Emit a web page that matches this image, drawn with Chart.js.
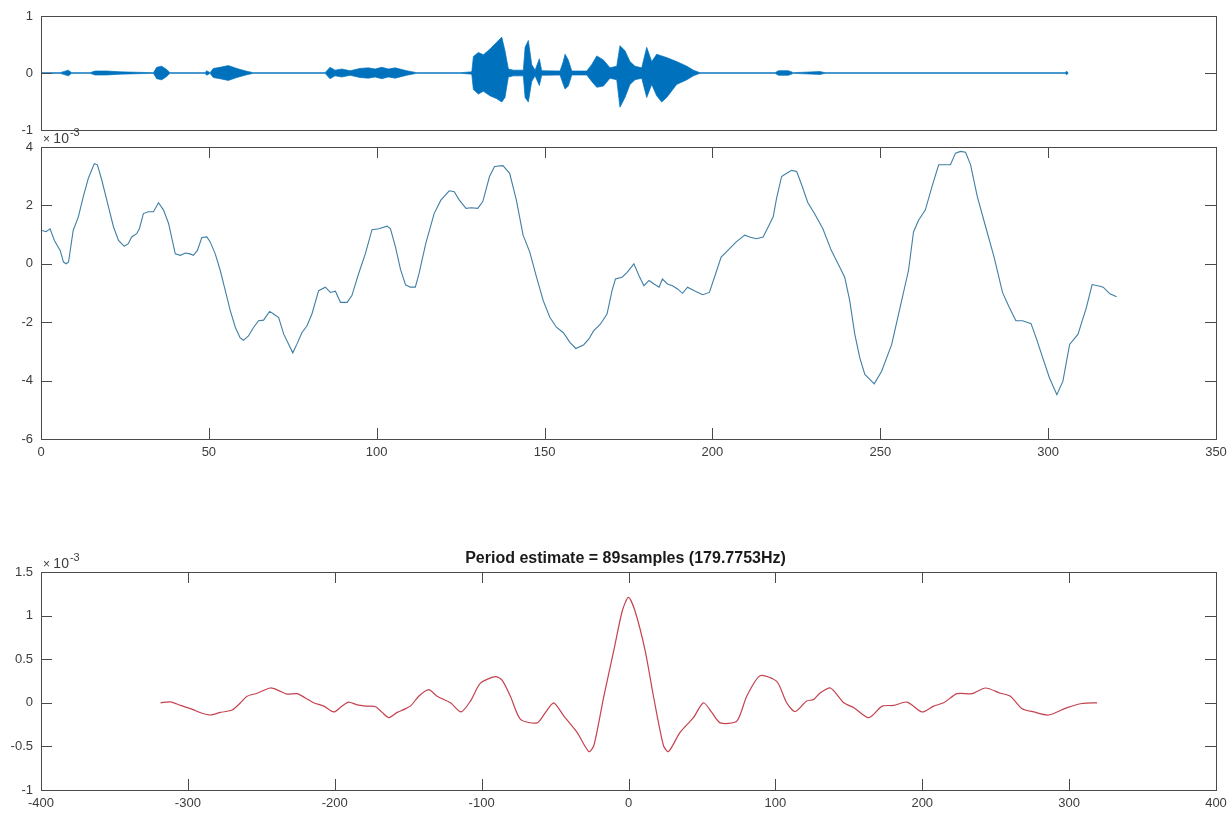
<!DOCTYPE html>
<html>
<head>
<meta charset="utf-8">
<script src="https://cdn.jsdelivr.net/npm/chart.js@4.4.1/dist/chart.umd.min.js"></script>
<style>
  html, body { margin: 0; padding: 0; background: #fff; }
  #wrap { position: relative; width: 1229px; height: 817px; }
  #wrap canvas { position: absolute; left: 0; top: 0; }
</style>
</head>
<body>
<div id="wrap">
  <canvas id="chartSignal" width="1229" height="817"></canvas>
  <canvas id="chartFrame" width="1229" height="817"></canvas>
  <canvas id="chartAcf" width="1229" height="817"></canvas>
</div>
<script>
// ---- data ----

// top: envelope of the whole recording (sample index, upper / lower amplitude)
var envSample = [0, 1300, 1860, 2090, 3340, 3680, 4470, 5380, 7650, 7880, 8220, 8560, 8780,
  11170, 11280, 11510, 11730, 12190, 12750, 13330, 14010, 14460,
  19340, 19680, 20020, 20480, 21040, 21720, 22290, 22740, 23200, 23650, 24110, 24900, 25580,
  28530, 29330, 29440, 29780, 30120, 30570, 31030, 31370, 31590, 31820, 32160, 32840, 32960,
  33180, 33410, 33640, 33930, 34090, 35340, 35560, 35680, 35900, 36140, 37160, 37500, 37840,
  38290, 38740, 39200, 39420, 39760, 40100, 40440, 40900, 41240, 41580, 41920, 42260, 42600,
  43280, 43970, 44420, 44870, 49980, 50210, 50890, 51230, 53040, 53380, 69720, 69840, 69930];
var envUpper = [0.006, 0.006, 0.05, 0.006, 0.006, 0.035, 0.035, 0.02, 0.006, 0.1, 0.12, 0.06, 0.006,
  0.006, 0.04, 0.006, 0.08, 0.1, 0.13, 0.08, 0.03, 0.006,
  0.006, 0.1, 0.05, 0.07, 0.04, 0.08, 0.09, 0.07, 0.1, 0.07, 0.09, 0.04, 0.006,
  0.006, 0.02, 0.29, 0.36, 0.32, 0.42, 0.54, 0.63, 0.39, 0.07, 0.05, 0.05, 0.45,
  0.57, 0.15, 0.05, 0.25, 0.04, 0.035, 0.2, 0.33, 0.23, 0.035, 0.035, 0.15, 0.3,
  0.23, 0.09, 0.12, 0.48, 0.39, 0.2, 0.12, 0.09, 0.45, 0.2, 0.33, 0.3, 0.27,
  0.2, 0.12, 0.05, 0.006, 0.006, 0.04, 0.04, 0.006, 0.025, 0.006, 0.006, 0.03, 0.006];
var envLower = [-0.006, -0.006, -0.05, -0.006, -0.006, -0.035, -0.035, -0.02, -0.006, -0.1, -0.12, -0.06, -0.006,
  -0.006, -0.04, -0.006, -0.08, -0.1, -0.13, -0.08, -0.03, -0.006,
  -0.006, -0.1, -0.05, -0.07, -0.04, -0.08, -0.09, -0.07, -0.1, -0.07, -0.09, -0.04, -0.006,
  -0.006, -0.02, -0.29, -0.37, -0.32, -0.4, -0.45, -0.51, -0.43, -0.07, -0.05, -0.05, -0.43,
  -0.51, -0.15, -0.05, -0.22, -0.04, -0.035, -0.2, -0.28, -0.23, -0.035, -0.035, -0.15, -0.25,
  -0.23, -0.09, -0.12, -0.6, -0.43, -0.2, -0.12, -0.09, -0.43, -0.2, -0.4, -0.51, -0.43,
  -0.2, -0.12, -0.05, -0.006, -0.006, -0.04, -0.04, -0.006, -0.025, -0.006, -0.006, -0.03, -0.006];

// middle: analysed frame (sample n, value in units of 1e-3)
var frameN = [0, 1.5, 2.7, 4, 5.7, 6.7, 7.5, 8.2, 9.6, 11.1, 12.6, 14.1, 15.9, 16.8, 18.1, 19.6,
  21.6, 23.1, 24.8, 26, 27, 28.5, 29.3, 30.5, 32, 33.5, 35, 36.5, 38, 39, 40, 41.5, 43, 44.4,
  45.4, 46.6, 47.9, 49.4, 50.4, 51.9, 53.4, 54.9, 56.4, 57.9, 59.3, 60.3, 61.8, 63.3, 64.8,
  66.3, 68.1, 69.3, 70.8, 72.3, 73.8, 75, 76.2, 77.7, 79.2, 80.7, 82.7, 84.7, 86.2, 87.7,
  89.2, 91.2, 92.6, 94.6, 96.6, 98.6, 100.6, 103.1, 104.1, 105.6, 107.1, 108.6, 110, 111.5,
  112.6, 114.6, 117.1, 119.1, 121.6, 123.1, 124.6, 126.6, 128.1, 130.1, 131.6, 133.6, 135.1,
  137.6, 139.6, 141.6, 143.6, 145.6, 147.6, 149.6, 151.6, 153.6, 155.6, 157.6, 159.3, 161.6,
  163.1, 164.6, 166.6, 168.6, 170.1, 171.1, 173.1, 174.6, 176.6, 178.1, 179.6, 181.1, 182.6,
  184.1, 185.1, 186.6, 188.1, 189.6, 191.1, 192.6, 194.6, 197.1, 199.1, 201.1, 202.6, 204.6,
  207.1, 209.6, 211.1, 213.1, 215.1, 216.6, 218.1, 219.1, 220.6, 222.1, 223.6, 225.1, 226.6,
  228.4, 230.4, 232.9, 235.4, 237.9, 239.4, 240.9, 242.4, 243.9, 245.4, 248.2, 250.4, 253.4,
  255.9, 258.4, 259.9, 261.4, 263.4, 265.4, 267.4, 268.9, 270.9, 272.4, 273.9, 275.4, 276.9,
  278.9, 281.4, 283.9, 286.4, 288.4, 290.4, 292.4, 294.9, 296.4, 298.4, 300.4, 302.6, 304.4,
  306.4, 308.9, 311.4, 313.1, 314.8, 316.4, 318.4, 320.4];
var frameValue = [1.15, 1.1, 1.2, 0.8, 0.46, 0.06, 0, 0.06, 1.15, 1.6, 2.3, 2.93, 3.43, 3.39, 2.87, 2.18,
  1.26, 0.8, 0.6, 0.69, 0.92, 1.03, 1.2, 1.72, 1.78, 1.78, 2.09, 1.84, 1.38, 0.86, 0.34, 0.29, 0.37, 0.34,
  0.29, 0.46, 0.9, 0.92, 0.75, 0.34, -0.23, -0.92, -1.61, -2.18, -2.53, -2.62, -2.47, -2.18, -1.95,
  -1.93, -1.63, -1.72, -1.84, -2.41, -2.76, -3.05, -2.76, -2.36, -2.13, -1.72, -0.92, -0.8, -0.98, -0.94,
  -1.32, -1.32, -1.09, -0.34, 0.34, 1.17, 1.2, 1.29, 1.2, 0.57, -0.2, -0.72, -0.8, -0.8,
  -0.34, 0.69, 1.72, 2.18, 2.5, 2.47, 2.18, 1.9, 1.92, 1.9, 2.13, 2.99, 3.33,
  3.36, 3.1, 2.18, 0.98, 0.4, -0.46, -1.26, -1.84, -2.18, -2.36, -2.7, -2.9, -2.78,
  -2.59, -2.3, -2.07, -1.72, -0.92, -0.52, -0.46, -0.29, 0, -0.4, -0.75, -0.57, -0.69,
  -0.8, -0.52, -0.69, -0.75, -0.86, -1.01, -0.8, -0.92, -1.06, -0.98, -0.29, 0.23, 0.46,
  0.75, 0.98, 0.92, 0.86, 0.92, 1.26, 1.61, 2.24, 2.99, 3.1, 3.2, 3.16, 2.7,
  2.1, 1.72, 1.2, 0.46, -0.11, -0.46, -1.26, -2.41, -3.22, -3.79, -4.11, -3.68, -2.76,
  -1.49, -0.23, 1.09, 1.49, 1.84, 2.64, 3.39, 3.39, 3.39, 3.79, 3.85, 3.82, 3.39,
  2.3, 1.26, 0.23, -0.98, -1.49, -1.95, -1.95, -2.05, -2.53, -3.22, -3.91, -4.48, -4.02,
  -2.76, -2.41, -1.49, -0.71, -0.75, -0.8, -1.03, -1.13];

// bottom: autocorrelation (lag in samples, value in units of 1e-3)
var acfLag = [-318.6, -311.8, -305, -297, -290.3, -284.6, -277.8, -269.9, -264.2, -259.7, -252.9,
  -243.8, -238.1, -232.5, -225.7, -220, -214.3, -207.5, -200.7, -195, -190.5, -184.8, -178,
  -172.2, -167.7, -163.2, -157.5, -152, -148, -142.8, -136, -130.3, -121.2, -114, -107.6,
  -100.8, -90.6, -86.1, -80.4, -73.5, -62.2, -56.5, -50.9, -44.1, -35, -27, -23.6, -16.8,
  -10, -4.3, 0, 4.5, 11.3, 17, 23.8, 27.2, 35.1, 44.2, 51, 56.7, 62.4, 73.7, 80.5, 89.6,
  100.9, 107.7, 113.4, 121.3, 126.1, 130.3, 137.5, 146.6, 153.4, 163.6, 172.7, 180.6, 189.7,
  199.9, 207.8, 214.6, 223.7, 233.9, 243, 253.2, 260, 268, 275.9, 286.1, 298.6, 308.8, 319];
var acfValue = [0, 0.01, -0.03, -0.075, -0.12, -0.14, -0.11, -0.083, 0, 0.075, 0.11,
  0.17, 0.14, 0.1, 0.105, 0.056, 0, -0.038, -0.105, -0.038, 0.008, -0.023, -0.038,
  -0.045, -0.11, -0.17, -0.11, -0.07, -0.03, 0.075, 0.15, 0.075, 0, -0.105, 0.02,
  0.225, 0.3, 0.26, 0.075, -0.19, -0.23, -0.11, 0, -0.15, -0.34, -0.56, -0.49, 0.075,
  0.6, 1.05, 1.21, 1.05, 0.6, 0.075, -0.49, -0.56, -0.34, -0.17, 0, -0.11, -0.23, -0.21, 0.075, 0.31,
  0.245, 0, -0.1, 0.02, 0.038, 0.11, 0.17, 0, -0.056, -0.17, -0.038, -0.03, 0.008,
  -0.105, -0.038, 0, 0.105, 0.105, 0.17, 0.11, 0.075, -0.068, -0.105, -0.14, -0.056, -0.008, 0];

var periodSamples = 89;
var sampleRate = 16000;
var acfTitle = 'Period estimate = ' + periodSamples + 'samples (' + (sampleRate / periodSamples).toFixed(4) + 'Hz)';

// ---- look ----
var FONT = '"Liberation Sans", Arial, Helvetica, sans-serif';
var AXIS_COLOR = '#4a4a4a';
var LABEL_COLOR = '#3c3c3c';
var TICK_LEN = 11;
Chart.defaults.font.family = FONT;
Chart.defaults.font.size = 13;
Chart.defaults.color = LABEL_COLOR;

function toPoints(xs, ys) {
    return xs.map(function (x, i) { return { x: x, y: ys[i] }; });
}

function fmt(v) {
    return String(Math.round(v * 10) / 10);
}

// MATLAB style box, inward ticks, exponent label and title
var matlabBox = {
    id: 'matlabBox',
    afterDraw: function (chart, args, opts) {
        var ctx = chart.ctx;
        var a = chart.chartArea;
        var xs = chart.scales.x;
        var ys = chart.scales.y;
        ctx.save();
        ctx.strokeStyle = AXIS_COLOR;
        ctx.lineWidth = 1;
        ctx.beginPath();
        if (opts.xTicks) {
            xs.ticks.forEach(function (t) {
                var px = Math.round(xs.getPixelForValue(t.value)) + 0.5;
                ctx.moveTo(px, a.bottom);
                ctx.lineTo(px, a.bottom - TICK_LEN);
                ctx.moveTo(px, a.top);
                ctx.lineTo(px, a.top + TICK_LEN);
            });
        }
        ys.ticks.forEach(function (t) {
            var py = Math.round(ys.getPixelForValue(t.value)) + 0.5;
            ctx.moveTo(a.left, py);
            ctx.lineTo(a.left + TICK_LEN, py);
            ctx.moveTo(a.right, py);
            ctx.lineTo(a.right - TICK_LEN, py);
        });
        ctx.stroke();
        ctx.strokeRect(Math.round(a.left) + 0.5, Math.round(a.top) + 0.5,
            Math.round(a.right - a.left), Math.round(a.bottom - a.top));

        ctx.fillStyle = LABEL_COLOR;
        ctx.textBaseline = 'alphabetic';
        if (opts.exponent) {
            var bx = a.left + 2;
            var by = a.top - 4;
            ctx.textAlign = 'left';
            ctx.font = '12px ' + FONT;
            ctx.fillText('\u00D7', bx, by);
            var w1 = ctx.measureText('\u00D7 ').width;
            ctx.font = '14px ' + FONT;
            ctx.fillText('10', bx + w1, by);
            var w2 = ctx.measureText('10').width;
            ctx.font = '11px ' + FONT;
            ctx.fillText(opts.exponent, bx + w1 + w2 + 1, by - 7);
        }
        if (opts.title) {
            ctx.textAlign = 'center';
            ctx.font = 'bold 16px ' + FONT;
            ctx.fillStyle = '#1a1a1a';
            ctx.fillText(opts.title, (a.left + a.right) / 2 - 3, a.top - 9);
        }
        ctx.restore();
    }
};

function yAxis(min, max, step) {
    return {
        type: 'linear',
        min: min,
        max: max,
        ticks: { stepSize: step, padding: 8, callback: fmt },
        grid: { display: false, drawTicks: false },
        border: { display: false },
        afterFit: function (s) { s.width = 41; }
    };
}

function xAxis(min, max, step, h) {
    return {
        type: 'linear',
        min: min,
        max: max,
        ticks: { stepSize: step, padding: 6, maxRotation: 0, callback: function (v) { return String(v); } },
        grid: { display: false, drawTicks: false },
        border: { display: false },
        afterFit: function (s) {
            s.height = h;
            // keep the plot box the same width as the top panel
            s.paddingLeft = 0;
            s.paddingRight = 0;
        }
    };
}

// top panel: whole signal
new Chart(document.getElementById('chartSignal').getContext('2d'), {
    type: 'line',
    data: {
        datasets: [{
            data: toPoints(envSample, envUpper),
            borderColor: '#0072BD',
            borderWidth: 0.7,
            pointRadius: 0,
            fill: false
        }, {
            data: toPoints(envSample, envLower),
            borderColor: '#0072BD',
            backgroundColor: '#0072BD',
            borderWidth: 0.7,
            pointRadius: 0,
            fill: '-1'
        }]
    },
    options: {
        responsive: false,
        animation: false,
        layout: { padding: { left: 0, right: 13, top: 16, bottom: 687 } },
        scales: {
            x: { type: 'linear', min: 0, max: 80000, display: false },
            y: yAxis(-1, 1, 1)
        },
        plugins: {
            legend: { display: false },
            tooltip: { enabled: false },
            matlabBox: { xTicks: false }
        }
    },
    plugins: [matlabBox]
});

// middle panel: analysed frame
new Chart(document.getElementById('chartFrame').getContext('2d'), {
    type: 'line',
    data: {
        datasets: [{
            data: toPoints(frameN, frameValue),
            borderColor: '#3f7fa3',
            borderWidth: 1.1,
            pointRadius: 0,
            fill: false
        }]
    },
    options: {
        responsive: false,
        animation: false,
        layout: { padding: { left: 0, right: 13, top: 147, bottom: 348 } },
        scales: {
            x: xAxis(0, 350, 50, 30),
            y: yAxis(-6, 4, 2)
        },
        plugins: {
            legend: { display: false },
            tooltip: { enabled: false },
            matlabBox: { xTicks: true, exponent: '-3' }
        }
    },
    plugins: [matlabBox]
});

// bottom panel: autocorrelation
new Chart(document.getElementById('chartAcf').getContext('2d'), {
    type: 'line',
    data: {
        datasets: [{
            data: toPoints(acfLag, acfValue),
            borderColor: '#c4424e',
            borderWidth: 1.2,
            pointRadius: 0,
            tension: 0.25,
            fill: false
        }]
    },
    options: {
        responsive: false,
        animation: false,
        layout: { padding: { left: 0, right: 13, top: 572, bottom: 1 } },
        scales: {
            x: xAxis(-400, 400, 100, 26),
            y: yAxis(-1, 1.5, 0.5)
        },
        plugins: {
            legend: { display: false },
            tooltip: { enabled: false },
            matlabBox: { xTicks: true, exponent: '-3', title: acfTitle }
        }
    },
    plugins: [matlabBox]
});
</script>
</body>
</html>
